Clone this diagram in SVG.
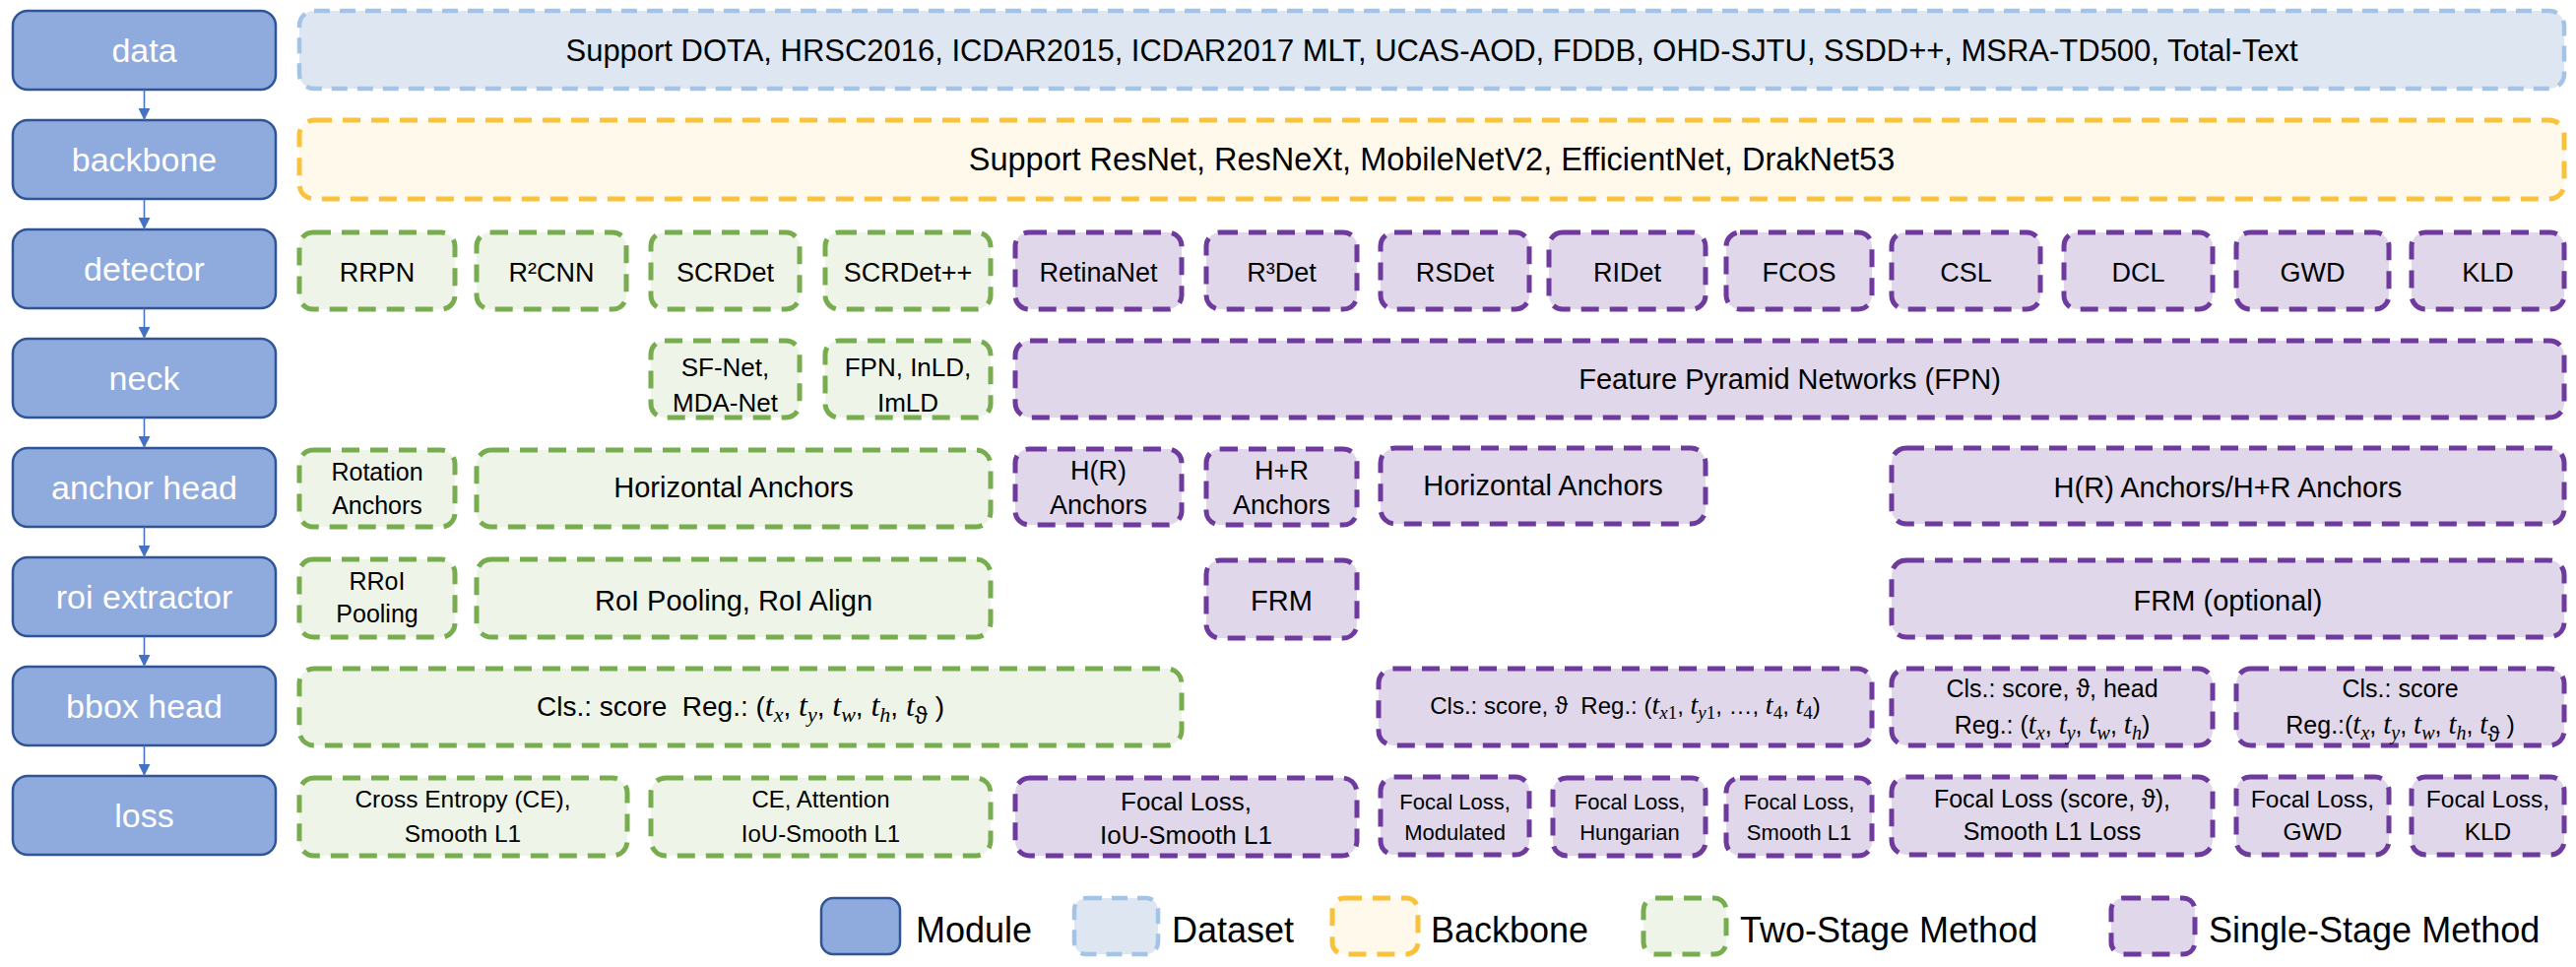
<svg xmlns="http://www.w3.org/2000/svg" width="2616" height="982" viewBox="0 0 2616 982">
<defs>
<style>
.mod{fill:#8FAADC;stroke:#2F5597;stroke-width:2.5}
.ds{fill:#DEE6F2;stroke:#A3C4E6;stroke-width:4.5;stroke-dasharray:16 10}
.bb{fill:#FFF9EC;stroke:#F9C23C;stroke-width:5;stroke-dasharray:18 11}
.ts{fill:#EEF5E8;stroke:#78AD4F;stroke-width:5;stroke-dasharray:18 11}
.ss{fill:#E0D7EB;stroke:#6E3A9E;stroke-width:5;stroke-dasharray:18 11}
text{font-family:"Liberation Sans",Arial,sans-serif;fill:#000;text-anchor:middle}
.ml{fill:#fff;font-size:34px}
.lg{text-anchor:start;font-size:36px}
.m{font-family:"Liberation Serif","Times New Roman",serif;font-style:italic}
.up{font-family:"Liberation Serif","Times New Roman",serif;font-style:normal}
.cn{stroke:#4472C4;stroke-width:1.6;fill:none}
</style>
<marker id="ah" viewBox="0 0 12 12" refX="12" refY="6" markerWidth="12" markerHeight="12" markerUnits="userSpaceOnUse" orient="auto">
<path d="M0,0 L12,6 L0,12 z" fill="#4472C4"/>
</marker>
</defs>
<rect width="2616" height="982" fill="#fff"/>

<!-- Modules -->
<g id="m-data"><rect class="mod" x="13" y="11" width="267" height="80" rx="15"/><text class="ml" x="146.5" y="63">data</text></g>
<g id="m-backbone"><rect class="mod" x="13" y="122" width="267" height="80" rx="15"/><text class="ml" x="146.5" y="174">backbone</text></g>
<g id="m-detector"><rect class="mod" x="13" y="233" width="267" height="80" rx="15"/><text class="ml" x="146.5" y="285">detector</text></g>
<g id="m-neck"><rect class="mod" x="13" y="344" width="267" height="80" rx="15"/><text class="ml" x="146.5" y="396">neck</text></g>
<g id="m-anchor"><rect class="mod" x="13" y="455" width="267" height="80" rx="15"/><text class="ml" x="146.5" y="507">anchor head</text></g>
<g id="m-roi"><rect class="mod" x="13" y="566" width="267" height="80" rx="15"/><text class="ml" x="146.5" y="618">roi extractor</text></g>
<g id="m-bbox"><rect class="mod" x="13" y="677" width="267" height="80" rx="15"/><text class="ml" x="146.5" y="729">bbox head</text></g>
<g id="m-loss"><rect class="mod" x="13" y="788" width="267" height="80" rx="15"/><text class="ml" x="146.5" y="840">loss</text></g>

<!-- Connectors -->
<g id="connectors">
<line class="cn" x1="146.5" y1="91" x2="146.5" y2="122" marker-end="url(#ah)"/>
<line class="cn" x1="146.5" y1="202" x2="146.5" y2="233" marker-end="url(#ah)"/>
<line class="cn" x1="146.5" y1="313" x2="146.5" y2="344" marker-end="url(#ah)"/>
<line class="cn" x1="146.5" y1="424" x2="146.5" y2="455" marker-end="url(#ah)"/>
<line class="cn" x1="146.5" y1="535" x2="146.5" y2="566" marker-end="url(#ah)"/>
<line class="cn" x1="146.5" y1="646" x2="146.5" y2="677" marker-end="url(#ah)"/>
<line class="cn" x1="146.5" y1="757" x2="146.5" y2="788" marker-end="url(#ah)"/>
</g>

<!-- data / backbone -->
<g id="n-data"><rect class="ds" x="304" y="11" width="2300" height="79" rx="15"/><text x="1454" y="62" font-size="31" textLength="1759" lengthAdjust="spacingAndGlyphs">Support DOTA, HRSC2016, ICDAR2015, ICDAR2017 MLT, UCAS-AOD, FDDB, OHD-SJTU, SSDD++, MSRA-TD500, Total-Text</text></g>
<g id="n-backbone"><rect class="bb" x="304" y="122" width="2300" height="80" rx="15"/><text x="1454" y="173" font-size="32.5">Support ResNet, ResNeXt, MobileNetV2, EfficientNet, DrakNet53</text></g>

<!-- detector row -->
<g id="d-rrpn"><rect class="ts" x="304" y="236" width="158" height="78" rx="14"/><text x="383" y="286" font-size="27">RRPN</text></g>
<g id="d-r2cnn"><rect class="ts" x="484" y="236" width="152" height="78" rx="14"/><text x="560" y="286" font-size="27">R²CNN</text></g>
<g id="d-scrdet"><rect class="ts" x="661" y="236" width="151" height="78" rx="14"/><text x="736.5" y="286" font-size="27">SCRDet</text></g>
<g id="d-scrdetpp"><rect class="ts" x="838" y="236" width="168" height="78" rx="14"/><text x="922" y="286" font-size="27">SCRDet++</text></g>
<g id="d-retina"><rect class="ss" x="1031" y="236" width="169" height="78" rx="14"/><text x="1115.5" y="286" font-size="27">RetinaNet</text></g>
<g id="d-r3det"><rect class="ss" x="1225" y="236" width="153" height="78" rx="14"/><text x="1301.5" y="286" font-size="27">R³Det</text></g>
<g id="d-rsdet"><rect class="ss" x="1402" y="236" width="151" height="78" rx="14"/><text x="1477.5" y="286" font-size="27">RSDet</text></g>
<g id="d-ridet"><rect class="ss" x="1573" y="236" width="159" height="78" rx="14"/><text x="1652.5" y="286" font-size="27">RIDet</text></g>
<g id="d-fcos"><rect class="ss" x="1753" y="236" width="148" height="78" rx="14"/><text x="1827" y="286" font-size="27">FCOS</text></g>
<g id="d-csl"><rect class="ss" x="1921" y="236" width="151" height="78" rx="14"/><text x="1996.5" y="286" font-size="27">CSL</text></g>
<g id="d-dcl"><rect class="ss" x="2096" y="236" width="151" height="78" rx="14"/><text x="2171.5" y="286" font-size="27">DCL</text></g>
<g id="d-gwd"><rect class="ss" x="2271" y="236" width="155" height="78" rx="14"/><text x="2348.5" y="286" font-size="27">GWD</text></g>
<g id="d-kld"><rect class="ss" x="2449" y="236" width="155" height="78" rx="14"/><text x="2526.5" y="286" font-size="27">KLD</text></g>

<!-- neck row -->
<g id="n-sfnet"><rect class="ts" x="661" y="346" width="151" height="78" rx="14"/><text x="736.5" y="382" font-size="26">SF-Net,</text><text x="736.5" y="418" font-size="26">MDA-Net</text></g>
<g id="n-fpninld"><rect class="ts" x="838" y="346" width="168" height="78" rx="14"/><text x="922" y="382" font-size="26">FPN, InLD,</text><text x="922" y="418" font-size="26">ImLD</text></g>
<g id="n-fpn"><rect class="ss" x="1031" y="346" width="1573" height="78" rx="15"/><text x="1817.5" y="395" font-size="29">Feature Pyramid Networks (FPN)</text></g>

<!-- anchor head row -->
<g id="a-rot"><rect class="ts" x="304" y="457" width="158" height="78" rx="14"/><text x="383" y="488" font-size="25">Rotation</text><text x="383" y="522" font-size="25">Anchors</text></g>
<g id="a-hor2"><rect class="ts" x="484" y="457" width="522" height="78" rx="15"/><text x="745" y="505" font-size="29">Horizontal Anchors</text></g>
<g id="a-hr"><rect class="ss" x="1031" y="456" width="169" height="77" rx="14"/><text x="1115.5" y="487" font-size="27">H(R)</text><text x="1115.5" y="522" font-size="27">Anchors</text></g>
<g id="a-hpr"><rect class="ss" x="1225" y="456" width="153" height="77" rx="14"/><text x="1301.5" y="487" font-size="27">H+R</text><text x="1301.5" y="522" font-size="27">Anchors</text></g>
<g id="a-hor1"><rect class="ss" x="1402" y="455" width="330" height="77" rx="15"/><text x="1567" y="503" font-size="29">Horizontal Anchors</text></g>
<g id="a-hrhr"><rect class="ss" x="1921" y="455" width="683" height="77" rx="15"/><text x="2262.5" y="505" font-size="29">H(R) Anchors/H+R Anchors</text></g>

<!-- roi extractor row -->
<g id="r-rroi"><rect class="ts" x="304" y="568" width="158" height="79" rx="14"/><text x="383" y="599" font-size="25">RRoI</text><text x="383" y="632" font-size="25">Pooling</text></g>
<g id="r-roi"><rect class="ts" x="484" y="568" width="522" height="79" rx="15"/><text x="745" y="620" font-size="29">RoI Pooling, RoI Align</text></g>
<g id="r-frm"><rect class="ss" x="1225" y="569" width="153" height="79" rx="14"/><text x="1301.5" y="620" font-size="29">FRM</text></g>
<g id="r-frmopt"><rect class="ss" x="1921" y="569" width="683" height="78" rx="15"/><text x="2262.5" y="620" font-size="29">FRM (optional)</text></g>

<!-- bbox head row -->
<g id="b-two"><rect class="ts" x="304" y="679" width="896" height="78" rx="15"/>
<text x="752" y="727" font-size="28">Cls.: score&#160; Reg.: (<tspan class="m" font-size="32">t</tspan><tspan class="m" font-size="22" dy="6">x</tspan><tspan dy="-6">, </tspan><tspan class="m" font-size="32">t</tspan><tspan class="m" font-size="22" dy="6">y</tspan><tspan dy="-6">, </tspan><tspan class="m" font-size="32">t</tspan><tspan class="m" font-size="22" dy="6">w</tspan><tspan dy="-6">, </tspan><tspan class="m" font-size="32">t</tspan><tspan class="m" font-size="22" dy="6">h</tspan><tspan dy="-6">, </tspan><tspan class="m" font-size="32">t</tspan><tspan font-size="24" dy="8">ϑ</tspan><tspan dy="-8"> )</tspan></text></g>
<g id="b-s1"><rect class="ss" x="1400" y="679" width="501" height="78" rx="15"/>
<text x="1650.5" y="725" font-size="24">Cls.: score, ϑ&#160; Reg.: (<tspan class="m" font-size="28">t</tspan><tspan font-size="19" dy="5"><tspan class="m">x</tspan><tspan class="up">1</tspan></tspan><tspan dy="-5">, </tspan><tspan class="m" font-size="28">t</tspan><tspan font-size="19" dy="5"><tspan class="m">y</tspan><tspan class="up">1</tspan></tspan><tspan dy="-5">, …, </tspan><tspan class="m" font-size="28">t</tspan><tspan class="up" font-size="19" dy="5">4</tspan><tspan dy="-5">, </tspan><tspan class="m" font-size="28">t</tspan><tspan class="up" font-size="19" dy="5">4</tspan><tspan dy="-5">)</tspan></text></g>
<g id="b-s2"><rect class="ss" x="1921" y="679" width="326" height="78" rx="15"/>
<text x="2084" y="708" font-size="25">Cls.: score, ϑ, head</text>
<text x="2084" y="745" font-size="25">Reg.: (<tspan class="m" font-size="29">t</tspan><tspan class="m" font-size="20" dy="6">x</tspan><tspan dy="-6">, </tspan><tspan class="m" font-size="29">t</tspan><tspan class="m" font-size="20" dy="6">y</tspan><tspan dy="-6">, </tspan><tspan class="m" font-size="29">t</tspan><tspan class="m" font-size="20" dy="6">w</tspan><tspan dy="-6">, </tspan><tspan class="m" font-size="29">t</tspan><tspan class="m" font-size="20" dy="6">h</tspan><tspan dy="-6">)</tspan></text></g>
<g id="b-s3"><rect class="ss" x="2271" y="679" width="333" height="78" rx="15"/>
<text x="2437.5" y="708" font-size="25">Cls.: score</text>
<text x="2437.5" y="745" font-size="25">Reg.:(<tspan class="m" font-size="29">t</tspan><tspan class="m" font-size="20" dy="6">x</tspan><tspan dy="-6">, </tspan><tspan class="m" font-size="29">t</tspan><tspan class="m" font-size="20" dy="6">y</tspan><tspan dy="-6">, </tspan><tspan class="m" font-size="29">t</tspan><tspan class="m" font-size="20" dy="6">w</tspan><tspan dy="-6">, </tspan><tspan class="m" font-size="29">t</tspan><tspan class="m" font-size="20" dy="6">h</tspan><tspan dy="-6">, </tspan><tspan class="m" font-size="29">t</tspan><tspan font-size="22" dy="8">ϑ</tspan><tspan dy="-8"> )</tspan></text></g>

<!-- loss row -->
<g id="l-ce"><rect class="ts" x="304" y="790" width="333" height="79" rx="15"/><text x="470" y="820" font-size="24.5">Cross Entropy (CE),</text><text x="470" y="855" font-size="24.5">Smooth L1</text></g>
<g id="l-ceatt"><rect class="ts" x="661" y="790" width="345" height="79" rx="15"/><text x="833.5" y="820" font-size="24">CE, Attention</text><text x="833.5" y="855" font-size="24">IoU-Smooth L1</text></g>
<g id="l-fiou"><rect class="ss" x="1031" y="790" width="347" height="79" rx="15"/><text x="1204.5" y="823" font-size="26">Focal Loss,</text><text x="1204.5" y="857" font-size="26">IoU-Smooth L1</text></g>
<g id="l-fmod"><rect class="ss" x="1402" y="789" width="151" height="79" rx="14"/><text x="1477.5" y="822" font-size="22">Focal Loss,</text><text x="1477.5" y="853" font-size="22">Modulated</text></g>
<g id="l-fhun"><rect class="ss" x="1577" y="790" width="155" height="79" rx="14"/><text x="1655" y="822" font-size="22">Focal Loss,</text><text x="1655" y="853" font-size="22">Hungarian</text></g>
<g id="l-fsl1"><rect class="ss" x="1753" y="790" width="148" height="79" rx="14"/><text x="1827" y="822" font-size="22">Focal Loss,</text><text x="1827" y="853" font-size="22">Smooth L1</text></g>
<g id="l-fst"><rect class="ss" x="1921" y="789" width="326" height="79" rx="15"/><text x="2084" y="820" font-size="25">Focal Loss (score, ϑ),</text><text x="2084" y="853" font-size="25">Smooth L1 Loss</text></g>
<g id="l-fgwd"><rect class="ss" x="2271" y="789" width="155" height="79" rx="14"/><text x="2348.5" y="820" font-size="24.5">Focal Loss,</text><text x="2348.5" y="853" font-size="24.5">GWD</text></g>
<g id="l-fkld"><rect class="ss" x="2449" y="789" width="155" height="79" rx="14"/><text x="2526.5" y="820" font-size="24.5">Focal Loss,</text><text x="2526.5" y="853" font-size="24.5">KLD</text></g>

<!-- legend -->
<g id="legend">
<rect class="mod" x="834" y="912" width="80" height="57" rx="12"/><text class="lg" x="930" y="957">Module</text>
<rect class="ds" x="1091" y="912" width="85" height="57" rx="12"/><text class="lg" x="1190" y="957">Dataset</text>
<rect class="bb" x="1353" y="912" width="87" height="57" rx="12"/><text class="lg" x="1453" y="957">Backbone</text>
<rect class="ts" x="1669" y="912" width="84" height="57" rx="12"/><text class="lg" x="1767" y="957">Two-Stage Method</text>
<rect class="ss" x="2144" y="912" width="85" height="57" rx="12"/><text class="lg" x="2243" y="957">Single-Stage Method</text>
</g>
</svg>
